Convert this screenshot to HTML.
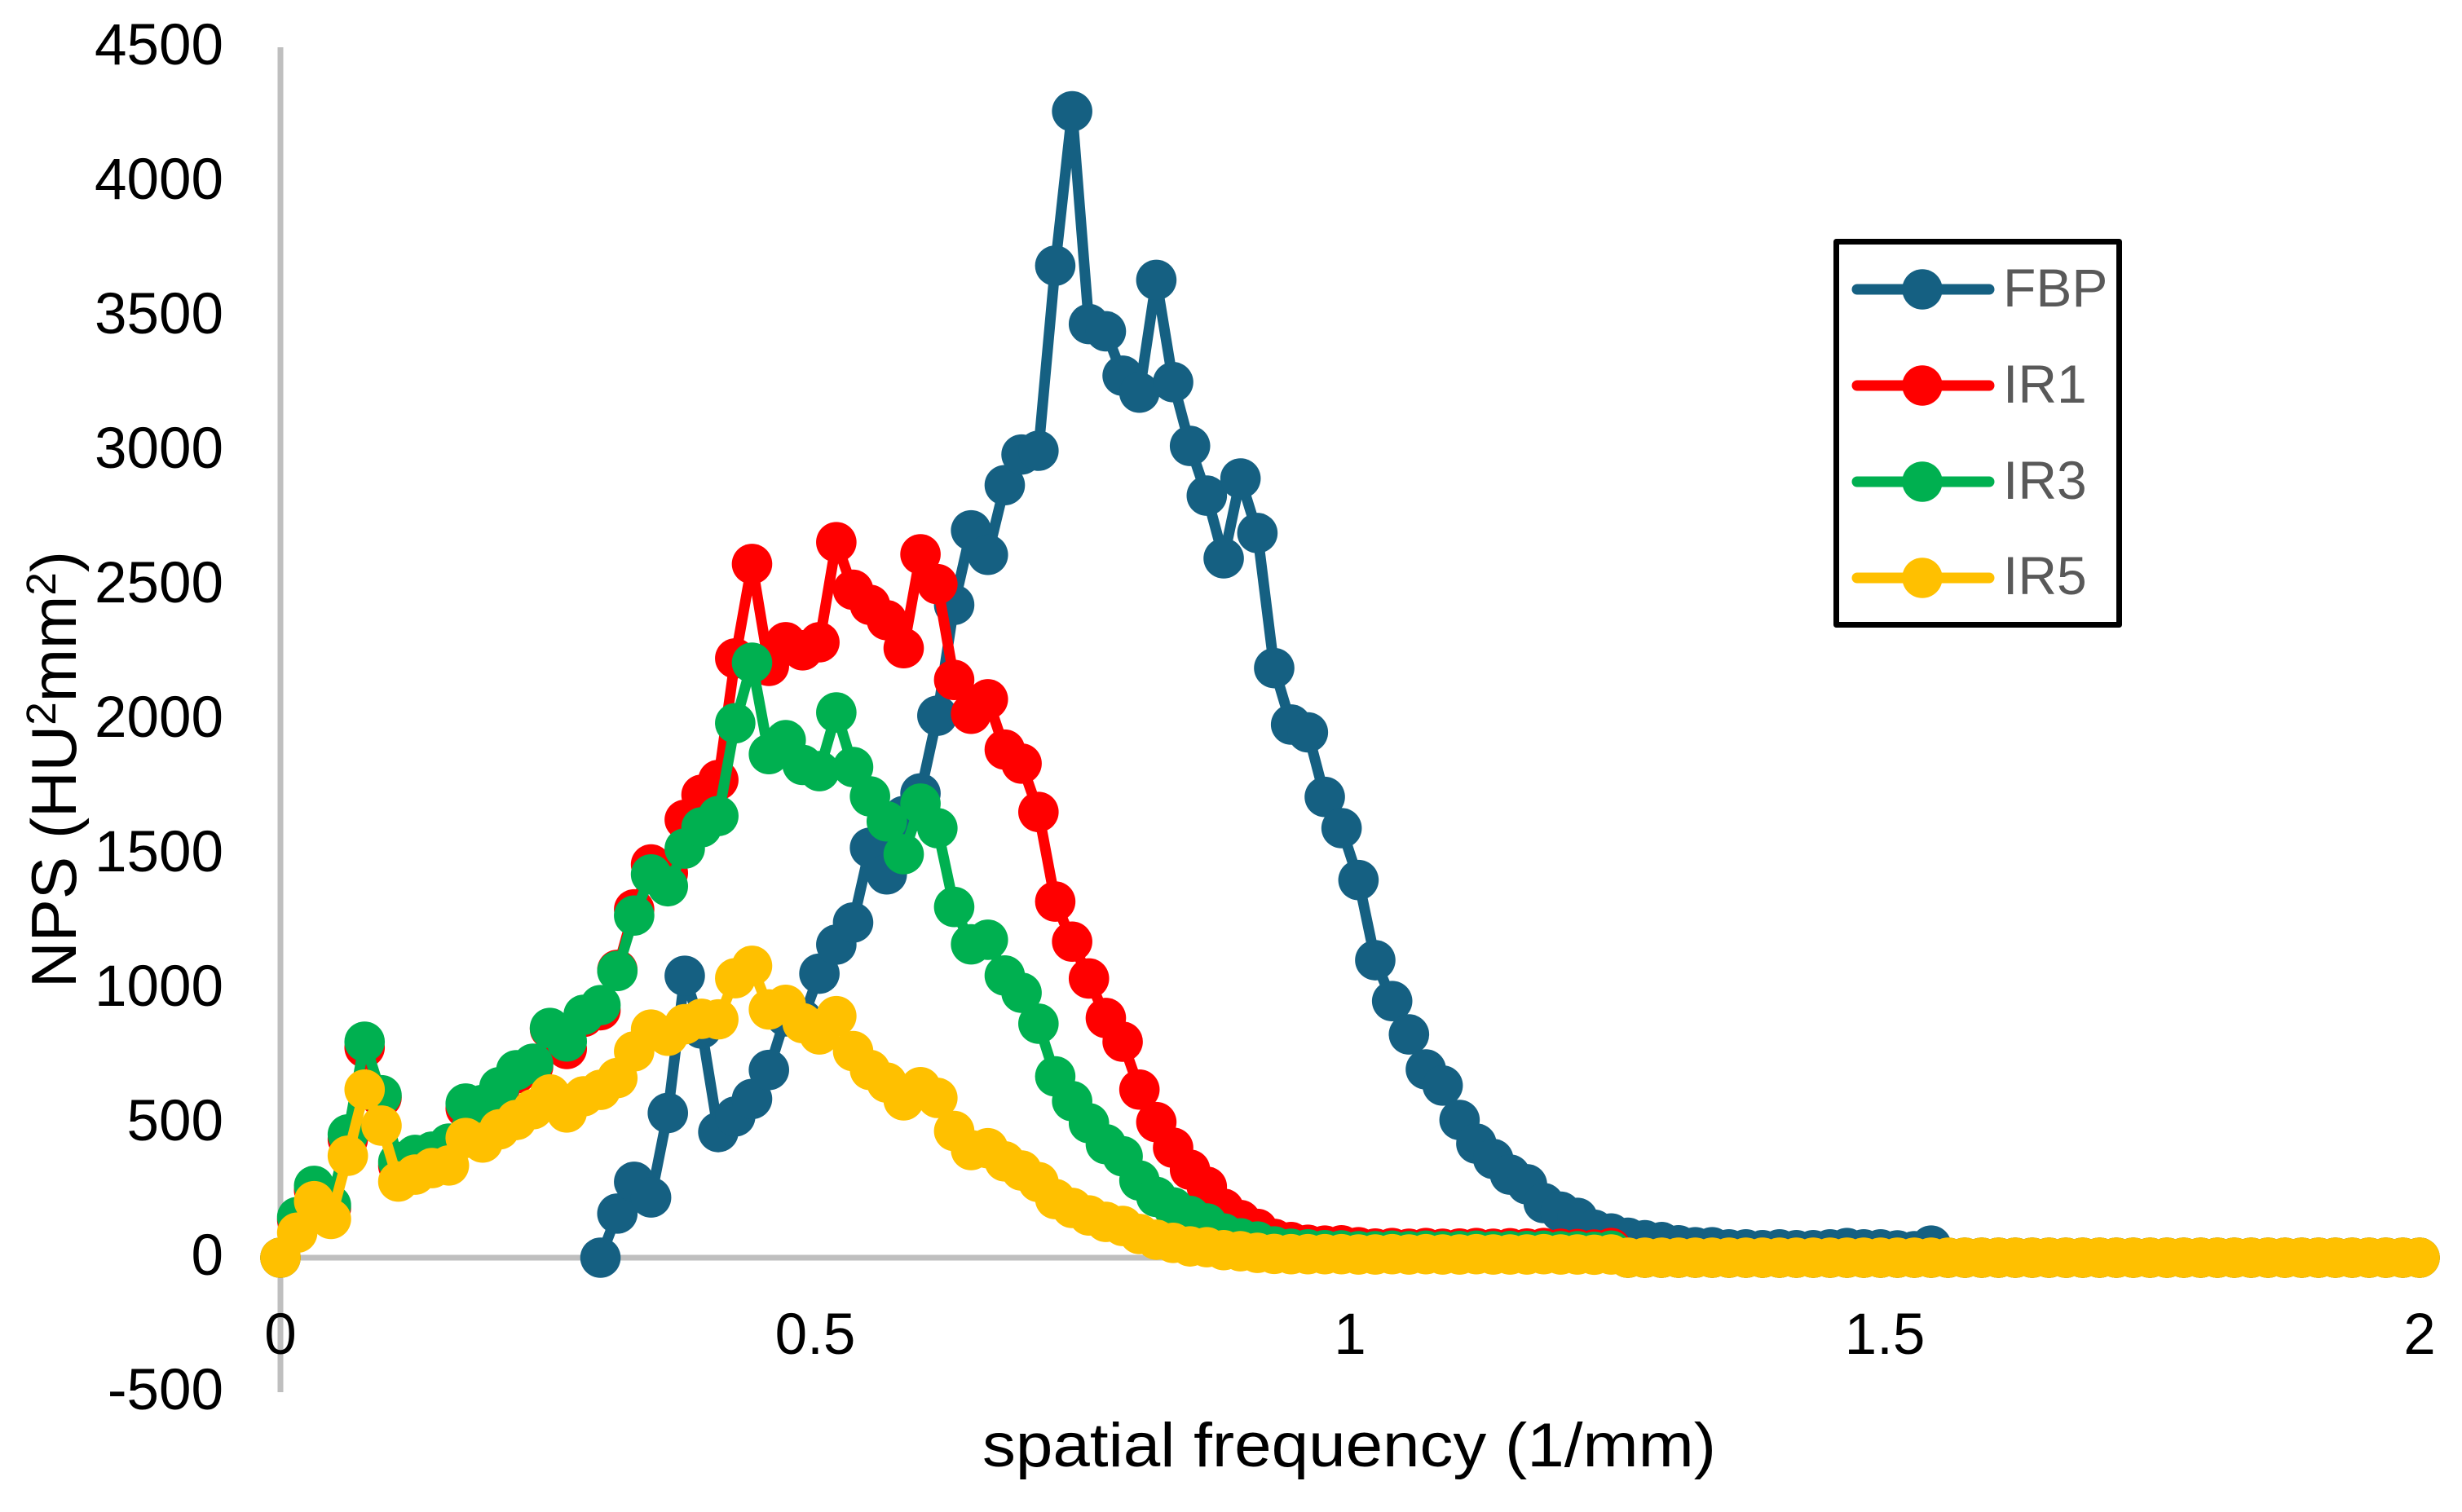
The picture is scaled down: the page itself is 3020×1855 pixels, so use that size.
<!DOCTYPE html>
<html lang="en">
<head>
<meta charset="utf-8">
<title>NPS vs spatial frequency</title>
<style>
html,body{margin:0;padding:0;background:#fff;}
svg{display:block;font-family:"Liberation Sans",Arial,sans-serif;}
</style>
</head>
<body>
<svg id="chart" xmlns="http://www.w3.org/2000/svg" width="3020" height="1855" viewBox="0 0 3020 1855">
  <rect x="0" y="0" width="3020" height="1855" fill="#ffffff"/>
  <g id="axes"></g>
  <g id="series"></g>
  <g id="ticks" font-size="71" fill="#000000"></g>
  <text x="1205" y="1799" font-size="76" fill="#000000" textLength="900" lengthAdjust="spacingAndGlyphs">spatial frequency (1/mm)</text>
  <text transform="translate(93,1212) rotate(-90)" x="0" y="0" font-size="78" fill="#000000" textLength="536" lengthAdjust="spacingAndGlyphs">NPS (HU<tspan font-size="51" dy="-25">2</tspan><tspan dy="25">mm</tspan><tspan font-size="51" dy="-25">2</tspan><tspan dy="25">)</tspan></text>
  <g>
    <rect x="2252.5" y="296.5" width="347" height="470" fill="#ffffff" stroke="#000000" stroke-width="7" stroke-linejoin="round"/>
    <g>
      <line x1="2278" y1="355" x2="2440" y2="355" stroke="#156082" stroke-width="13" stroke-linecap="round"/>
      <circle cx="2358" cy="355" r="24.7" fill="#156082"/>
      <text x="2457" y="376" font-size="66" fill="#595959">FBP</text>
    </g>
    <g>
      <line x1="2278" y1="473" x2="2440" y2="473" stroke="#FF0000" stroke-width="13" stroke-linecap="round"/>
      <circle cx="2358" cy="473" r="24.7" fill="#FF0000"/>
      <text x="2457" y="494" font-size="66" fill="#595959">IR1</text>
    </g>
    <g>
      <line x1="2278" y1="591" x2="2440" y2="591" stroke="#00B050" stroke-width="13" stroke-linecap="round"/>
      <circle cx="2358" cy="591" r="24.7" fill="#00B050"/>
      <text x="2457" y="612" font-size="66" fill="#595959">IR3</text>
    </g>
    <g>
      <line x1="2278" y1="709" x2="2440" y2="709" stroke="#FFC000" stroke-width="13" stroke-linecap="round"/>
      <circle cx="2358" cy="709" r="24.7" fill="#FFC000"/>
      <text x="2457" y="729" font-size="66" fill="#595959">IR5</text>
    </g>
  </g>
</svg>
<script>
const frequencies = [0,0.0157,0.0315,0.0472,0.0630,0.0787,0.0945,0.1102,0.1260,0.1417,0.1575,0.1732,0.1890,0.2047,0.2205,0.2362,0.2520,0.2677,0.2835,0.2992,0.3150,0.3307,0.3465,0.3622,0.3780,0.3937,0.4094,0.4252,0.4409,0.4567,0.4724,0.4882,0.5039,0.5197,0.5354,0.5512,0.5669,0.5827,0.5984,0.6142,0.6299,0.6457,0.6614,0.6772,0.6929,0.7087,0.7244,0.7402,0.7559,0.7717,0.7874,0.8031,0.8189,0.8346,0.8504,0.8661,0.8819,0.8976,0.9134,0.9291,0.9449,0.9606,0.9764,0.9921,1.0079,1.0236,1.0394,1.0551,1.0709,1.0866,1.1024,1.1181,1.1339,1.1496,1.1654,1.1811,1.1969,1.2126,1.2283,1.2441,1.2598,1.2756,1.2913,1.3071,1.3228,1.3386,1.3543,1.3701,1.3858,1.4016,1.4173,1.4331,1.4488,1.4646,1.4803,1.4961,1.5118,1.5276,1.5433,1.5591,1.5748,1.5906,1.6063,1.6220,1.6378,1.6535,1.6693,1.6850,1.7008,1.7165,1.7323,1.7480,1.7638,1.7795,1.7953,1.8110,1.8268,1.8425,1.8583,1.8740,1.8898,1.9055,1.9213,1.9370,1.9528,1.9685,1.9843,2];

const fbpValues = [null,null,null,null,null,null,null,null,null,null,null,null,null,null,null,null,null,null,null,
0,164,282,224,538,1048,852,467,525,590,698,897,885,1056,1164,1246,1524,1425,1642,1726,2015,2427,2704,2613,2872,2986,3000,3688,4262,3471,3444,3279,3216,3635,3255,3018,2833,2600,2897,2694,2192,1982,1953,1713,1597,1404,1106,954,830,700,640,512,424,367,309,273,203,171,148,104,90,74,65,58,46,39,39,31,31,28,31,28,28,31,36,31,31,27,24,45];

const ir1Values = [0,140,250,185,440,781,595,342,375,388,418,555,560,625,685,710,850,776,895,920,1070,1295,1462,1430,1628,1721,1776,2228,2579,2200,2288,2258,2288,2660,2483,2427,2370,2266,2615,2504,2148,2022,2076,1889,1837,1657,1324,1175,1038,891,803,625,504,409,327,264,182,140,107,70,58,48,45,46,39,34,36,33,36,33,34,36,33,35,34,36,33,32,30,36,
0,0,0,0,0,0,0,0,0,0,0,0,0,0,0,0,0,0,0,0,0,0,0,0,0,0,0,0,0,0,0,0,0,0,0,0,0,0,0,0,0,0,0,0,0,0,0,0];

const ir3Values = [0,151,267,196,458,803,604,356,382,394,424,573,568,634,697,721,854,804,903,939,1066,1272,1425,1381,1521,1600,1642,1987,2212,1872,1924,1832,1809,2027,1824,1715,1622,1500,1688,1597,1304,1165,1182,1049,985,870,674,582,500,422,377,287,226,187,155,127,90,72,60,42,33,31,28,27,24,24,26,24,26,24,25,26,24,25,25,26,24,24,22,26,
0,0,0,0,0,0,0,0,0,0,0,0,0,0,0,0,0,0,0,0,0,0,0,0,0,0,0,0,0,0,0,0,0,0,0,0,0,0,0,0,0,0,0,0,0,0,0,0];

const ir5Values = [0,93,210,144,379,625,491,283,309,333,343,445,428,477,512,552,607,540,600,624,668,767,848,825,868,888,886,1039,1085,923,940,872,830,898,768,698,651,585,634,594,471,400,407,358,324,281,218,185,157,133,118,88,67,55,42,39,28,24,18,14,13,13,13,13,12,12,13,12,13,12,12,13,12,12,12,13,12,12,11,12,
0,0,0,0,0,0,0,0,0,0,0,0,0,0,0,0,0,0,0,0,0,0,0,0,0,0,0,0,0,0,0,0,0,0,0,0,0,0,0,0,0,0,0,0,0,0,0,0];

const xTickValues = [0,0.5,1,1.5,2];
const xTickLabels = ["0","0.5","1","1.5","2"];
const yTickValues = [-500,0,500,1000,1500,2000,2500,3000,3500,4000,4500];
const yTickLabels = ["-500","0","500","1000","1500","2000","2500","3000","3500","4000","4500"];

const seriesNames = ["fbp","ir1","ir3","ir5"];
const seriesColors = ["#156082","#FF0000","#00B050","#FFC000"];
const seriesData = [fbpValues,ir1Values,ir3Values,ir5Values];

const NS = "http://www.w3.org/2000/svg";
function xPos(v){ return 344 + v * 1312; }
function yPos(v){ return 1543 - v * 0.33; }

const axesG = document.getElementById("axes");
const xAxis = document.createElementNS(NS,"line");


xAxis.setAttribute("x1",xPos(0));
xAxis.setAttribute("x2",xPos(2));
xAxis.setAttribute("y1",yPos(0));
xAxis.setAttribute("y2",yPos(0));
xAxis.setAttribute("stroke","#BFBFBF");
xAxis.setAttribute("stroke-width","7");
axesG.appendChild(xAxis);

const yAxis = document.createElementNS(NS,"line");


yAxis.setAttribute("x1",xPos(0));
yAxis.setAttribute("x2",xPos(0));
yAxis.setAttribute("y1",yPos(4500));
yAxis.setAttribute("y2",yPos(-500));
yAxis.setAttribute("stroke","#BFBFBF");
yAxis.setAttribute("stroke-width","7");
axesG.appendChild(yAxis);

const seriesG = document.getElementById("series");
seriesData.forEach(function(values,s){
  const group = document.createElementNS(NS,"g");
  
  
  const pts = [];
  values.forEach(function(v,i){
    if(v===null||v===undefined) return;
    pts.push(xPos(frequencies[i]).toFixed(2)+","+yPos(v).toFixed(2));
  });
  const line = document.createElementNS(NS,"polyline");
  
  
  line.setAttribute("points",pts.join(" "));
  line.setAttribute("fill","none");
  line.setAttribute("stroke",seriesColors[s]);
  line.setAttribute("stroke-width","13");
  line.setAttribute("stroke-linejoin","round");
  line.setAttribute("stroke-linecap","round");
  group.appendChild(line);
  values.forEach(function(v,i){
    if(v===null||v===undefined) return;
    const c = document.createElementNS(NS,"circle");
    
    
    c.setAttribute("cx",xPos(frequencies[i]).toFixed(2));
    c.setAttribute("cy",yPos(v).toFixed(2));
    c.setAttribute("r","24.8");
    c.setAttribute("fill",seriesColors[s]);
    group.appendChild(c);
  });
  seriesG.appendChild(group);
});

const ticksG = document.getElementById("ticks");
xTickValues.forEach(function(v,i){
  const t = document.createElementNS(NS,"text");
  
  
  t.setAttribute("x",xPos(v));
  t.setAttribute("y",1661);
  t.setAttribute("text-anchor","middle");
  t.textContent = xTickLabels[i];
  ticksG.appendChild(t);
});
yTickValues.forEach(function(v,i){
  const t = document.createElementNS(NS,"text");
  
  
  t.setAttribute("x",274);
  t.setAttribute("y",yPos(v)+21);
  t.setAttribute("text-anchor","end");
  t.textContent = yTickLabels[i];
  ticksG.appendChild(t);
});
</script>
</body>
</html>
